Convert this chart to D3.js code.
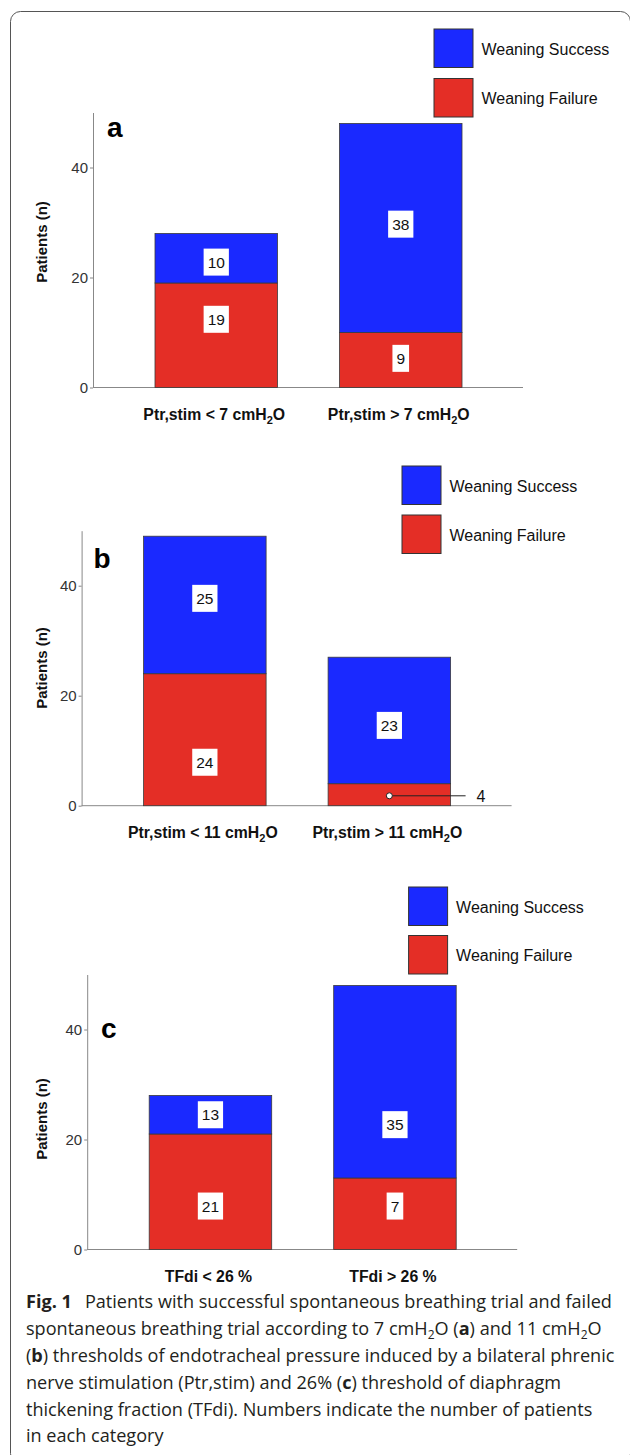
<!DOCTYPE html>
<html>
<head>
<meta charset="utf-8">
<script src="https://cdn.jsdelivr.net/npm/d3@7"></script>
<style>
  body { margin: 0; background: #fff; }
  svg { display: block; }
</style>
</head>
<body>
<svg id="fig" width="630" height="1455"></svg>
<script>
// Series + shared ticks
const seriesNames = ['Weaning Success', 'Weaning Failure'];
const yTicks = [0, 20, 40];
const yMax = 50;

// Panel a (Ptr,stim 7 cmH2O)
const catsA = ['Ptr,stim < 7 cmH2O', 'Ptr,stim > 7 cmH2O'];
const failA = [19, 10];
const succA = [9, 38];
const failLabelsA = ['19', '9'];
const succLabelsA = ['10', '38'];

// Panel b (Ptr,stim 11 cmH2O)
const catsB = ['Ptr,stim < 11 cmH2O', 'Ptr,stim > 11 cmH2O'];
const failB = [24, 4];
const succB = [25, 23];
const failLabelsB = ['24', '4'];
const succLabelsB = ['25', '23'];

// Panel c (TFdi 26 %)
const catsC = ['TFdi < 26 %', 'TFdi > 26 %'];
const failC = [21, 13];
const succC = [7, 35];
const failLabelsC = ['21', '7'];
const succLabelsC = ['13', '35'];

const colors = { succ: '#1a29ff', fail: '#e42e26' };
const chartFont = '"Liberation Sans", Arial, Helvetica, sans-serif';
const captionFont = '"Open Sans", "Noto Sans", sans-serif';

// layout of each panel (pixel positions), label anchors are in axis units
const panels = [
  { letter: 'a', cats: catsA, fail: failA, succ: succA, failLabels: failLabelsA, succLabels: succLabelsA,
    axisX: 93, baseY: 387.5, legendX: 434, legendY: 29, legendGap: 49.5,
    letterX: 107, letterY: 137, titleY: 242,
    failAt: [12.4, 5.3], succAt: [22.8, 29.7], callout: [] },
  { letter: 'b', cats: catsB, fail: failB, succ: succB, failLabels: failLabelsB, succLabels: succLabelsB,
    axisX: 81.6, baseY: 805.7, legendX: 402, legendY: 466, legendGap: 49,
    letterX: 93.5, letterY: 568, titleY: 668,
    failAt: [7.9, 1.8], succAt: [37.7, 14.6], callout: [1] },
  { letter: 'c', cats: catsC, fail: failC, succ: succC, failLabels: failLabelsC, succLabels: succLabelsC,
    axisX: 87.2, baseY: 1249.5, legendX: 408.6, legendY: 887, legendGap: 48.5,
    letterX: 101, letterY: 1038, titleY: 1119,
    failAt: [7.9, 7.9], succAt: [24.5, 22.7], callout: [] }
];

const svg = d3.select('#fig');

// outer frame
svg.append('rect')
  .attr('x', 10.5).attr('y', 11.5)
  .attr('width', 620).attr('height', 1452)
  .attr('rx', 10)
  .attr('fill', 'none')
  .attr('stroke', '#555')
  .attr('stroke-width', 1);

// text with a subscript 2 in "H2O"
function subText(sel, str) {
  const idx = str.indexOf('H2O');
  if (idx < 0) { sel.text(str); return; }
  sel.append('tspan').text(str.slice(0, idx + 1));
  sel.append('tspan').attr('dy', 4).attr('font-size', '0.7em').text('2');
  sel.append('tspan').attr('dy', -4).text(str.slice(idx + 2));
}

panels.forEach(p => {
  const g = svg.append('g').attr('font-family', chartFont);

  const y = d3.scaleLinear()
    .domain([0, yMax])
    .range([p.baseY, p.baseY - 275]);

  const x = d3.scaleBand()
    .domain(p.cats)
    .range([p.axisX + 31, p.axisX + 400])
    .paddingInner(0.336)
    .paddingOuter(0.168);

  const rows = p.cats.map((c, i) => ({ cat: c, fail: p.fail[i], succ: p.succ[i] }));
  const stacked = d3.stack().keys(['fail', 'succ'])(rows);

  // y axis
  const yAxis = g.append('g')
    .attr('transform', `translate(${p.axisX},0)`)
    .call(d3.axisLeft(y).tickValues(yTicks).tickSize(3).tickSizeOuter(0).tickPadding(2));
  yAxis.select('.domain').attr('stroke', '#888');
  yAxis.selectAll('.tick line').attr('stroke', '#888');
  yAxis.selectAll('.tick text')
    .attr('font-size', 15)
    .attr('font-family', chartFont)
    .attr('fill', '#333');

  // x axis baseline
  g.append('line')
    .attr('x1', p.axisX).attr('x2', p.axisX + 430)
    .attr('y1', y(0)).attr('y2', y(0))
    .attr('stroke', '#888');

  // stacked bars
  g.selectAll('g.layer')
    .data(stacked)
    .join('g')
    .attr('class', 'layer')
    .attr('fill', d => colors[d.key])
    .selectAll('rect')
    .data(d => d)
    .join('rect')
    .attr('x', d => x(d.data.cat))
    .attr('width', x.bandwidth())
    .attr('y', d => y(d[1]))
    .attr('height', d => y(d[0]) - y(d[1]))
    .attr('stroke', '#3b3b3b')
    .attr('stroke-width', 0.8);

  // value labels in white boxes
  const labels = [];
  p.cats.forEach((c, i) => {
    if (!p.callout.includes(i)) labels.push({ cat: c, text: p.failLabels[i], at: p.failAt[i] });
    labels.push({ cat: c, text: p.succLabels[i], at: p.succAt[i] });
  });
  labels.forEach(l => {
    const cx = x(l.cat) + x.bandwidth() / 2;
    const cy = y(l.at);
    const lg = g.append('g');
    const t = lg.append('text')
      .attr('x', cx).attr('y', cy)
      .attr('dy', '0.36em')
      .attr('text-anchor', 'middle')
      .attr('font-size', 15.5)
      .attr('fill', '#111')
      .text(l.text);
    const w = t.node().getComputedTextLength() + 8;
    lg.insert('rect', 'text')
      .attr('x', cx - w / 2).attr('y', cy - 13.5)
      .attr('width', w).attr('height', 27)
      .attr('fill', '#fff');
  });

  // callout for small segments
  p.callout.forEach(i => {
    const c = p.cats[i];
    const cx = x(c) + x.bandwidth() / 2;
    const cy = y(p.failAt[i]);
    const xEnd = x(c) + x.bandwidth() + 15;
    g.append('line')
      .attr('x1', cx).attr('x2', xEnd)
      .attr('y1', cy).attr('y2', cy)
      .attr('stroke', '#222');
    g.append('circle')
      .attr('cx', cx).attr('cy', cy).attr('r', 3)
      .attr('fill', '#fff').attr('stroke', '#222');
    g.append('text')
      .attr('x', xEnd + 11).attr('y', cy)
      .attr('dy', '0.36em')
      .attr('font-size', 16)
      .attr('fill', '#111')
      .text(p.failLabels[i]);
  });

  // category labels
  p.cats.forEach(c => {
    const t = g.append('text')
      .attr('x', x(c) + x.bandwidth() / 2 - 2)
      .attr('y', p.baseY + 32)
      .attr('text-anchor', 'middle')
      .attr('font-size', 15.8)
      .attr('font-weight', 'bold')
      .attr('fill', '#111');
    subText(t, c);
  });

  // y title
  g.append('text')
    .attr('transform', `translate(42,${p.titleY}) rotate(-90)`)
    .attr('dy', '0.35em')
    .attr('text-anchor', 'middle')
    .attr('font-size', 15)
    .attr('font-weight', 'bold')
    .attr('fill', '#111')
    .text('Patients (n)');

  // panel letter
  g.append('text')
    .attr('x', p.letterX).attr('y', p.letterY)
    .attr('font-size', 28)
    .attr('font-weight', 'bold')
    .attr('fill', '#000')
    .text(p.letter);

  // legend
  const legend = g.selectAll('g.legend')
    .data(seriesNames)
    .join('g')
    .attr('class', 'legend')
    .attr('transform', (d, i) => `translate(${p.legendX},${p.legendY + i * p.legendGap})`);
  legend.append('rect')
    .attr('width', 39).attr('height', 38.5)
    .attr('fill', (d, i) => i === 0 ? colors.succ : colors.fail)
    .attr('stroke', '#333')
    .attr('stroke-width', 1);
  legend.append('text')
    .attr('x', 47.5).attr('y', 20)
    .attr('dy', '0.36em')
    .attr('font-size', 16)
    .attr('fill', '#111')
    .text(d => d);
});

// caption
const caption = [
  [['Fig. 1', 'bold'], ['Patients with successful spontaneous breathing trial and failed', 'gap']],
  [['spontaneous breathing trial according to 7 cmH', ''], ['2', 'sub'], ['O (', 'up'], ['a', 'bold'], [') and 11 cmH', ''], ['2', 'sub'], ['O', 'up']],
  [['(', ''], ['b', 'bold'], [') thresholds of endotracheal pressure induced by a bilateral phrenic', '']],
  [['nerve stimulation (Ptr,stim) and 26% (', ''], ['c', 'bold'], [') threshold of diaphragm', '']],
  [['thickening fraction (TFdi). Numbers indicate the number of patients', '']],
  [['in each category', '']]
];

const cap = svg.append('text')
  .attr('font-family', captionFont)
  .attr('font-size', 18.1)
  .attr('fill', '#231f20');

caption.forEach((line, li) => {
  line.forEach(([t, kind], k) => {
    const ts = cap.append('tspan').text(t);
    if (k === 0) ts.attr('x', 26).attr('y', 1308.4 + li * 26.8);
    if (kind === 'bold') ts.attr('font-weight', 'bold');
    if (kind === 'gap') ts.attr('dx', 13);
    if (kind === 'sub') ts.attr('dy', 4).attr('font-size', 12);
    if (kind === 'up') ts.attr('dy', -4);
  });
});
</script>
</body>
</html>
